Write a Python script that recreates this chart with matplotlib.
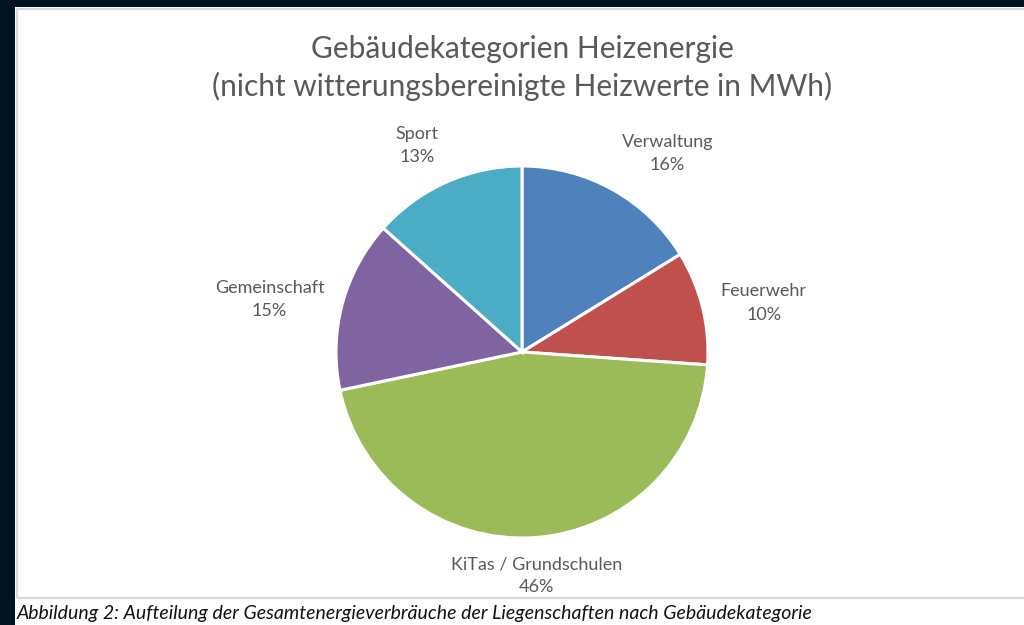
import numpy as np
import matplotlib.pyplot as plt
from matplotlib.patches import Rectangle

# shares in percent, clockwise from 12 o'clock
categories = ['Verwaltung', 'Feuerwehr', 'KiTas / Grundschulen', 'Gemeinschaft', 'Sport']
shares = [16.2, 9.9, 45.6, 14.9, 13.4]
colors = ['#4f81bd', '#c0504d', '#9bbb59', '#8064a2', '#4bacc6']

title = 'Gebäudekategorien Heizenergie\n(nicht witterungsbereinigte Heizwerte in MWh)'
caption = 'Abbildung 2: Aufteilung der Gesamtenergieverbräuche der Liegenschaften nach Gebäudekategorie'

W, H = 1024, 625
plt.rcParams['font.family'] = ['Lato', 'DejaVu Sans']

fig = plt.figure(figsize=(W / 100, H / 100), dpi=100, facecolor='#001321')

# white page + light chart frame (behind the pie axes)
fig.patches.append(Rectangle((15 / W, 0), 1, (H - 7) / H, transform=fig.transFigure,
                             facecolor='white', edgecolor='none', zorder=-2))
fig.patches.append(Rectangle((17 / W, (H - 598) / H), 1.1, (598 - 9) / H, transform=fig.transFigure,
                             facecolor='none', edgecolor='#d9d9d9', linewidth=1.6, zorder=-1))

# pie axes: 1 data unit = pie radius in pixels
r_px = 186
cx, cy = 522, H - 352
ax = fig.add_axes([0, 0, 1, 1])
ax.patch.set_visible(False)

wedges, _ = ax.pie(shares, colors=colors, startangle=90, counterclock=False,
                   radius=1, center=(0, 0), frame=True,
                   wedgeprops=dict(edgecolor='white', linewidth=2.2))
ax.set_xlim(-cx / r_px, (W - cx) / r_px)
ax.set_ylim(-cy / r_px, (H - cy) / r_px)
ax.axis('off')

total = sum(shares)
for w, name, val in zip(wedges, categories, shares):
    ang = np.deg2rad((w.theta1 + w.theta2) / 2)
    c, s = np.cos(ang), np.sin(ang)
    d = 1.1
    ha = 'center' if abs(c) < 0.3 else ('left' if c > 0 else 'right')
    va = 'bottom' if s > 0.5 else ('top' if s < -0.5 else 'center')
    ax.text(d * c, d * s, f'{name}\n{round(val / total * 100)}%', ha=ha, va=va,
            multialignment='center', fontsize=13, color='#595959', linespacing=1.55)

fig.text(522 / W, 1 - 68 / H, title, ha='center', va='center', fontsize=21.5,
         color='#595959', linespacing=1.38)

fig.text(17 / W, 1 - 613 / H, caption, ha='left', va='center', fontsize=14,
         style='italic', color='#111111')

fig.savefig('out.png', dpi=100, facecolor=fig.get_facecolor())
